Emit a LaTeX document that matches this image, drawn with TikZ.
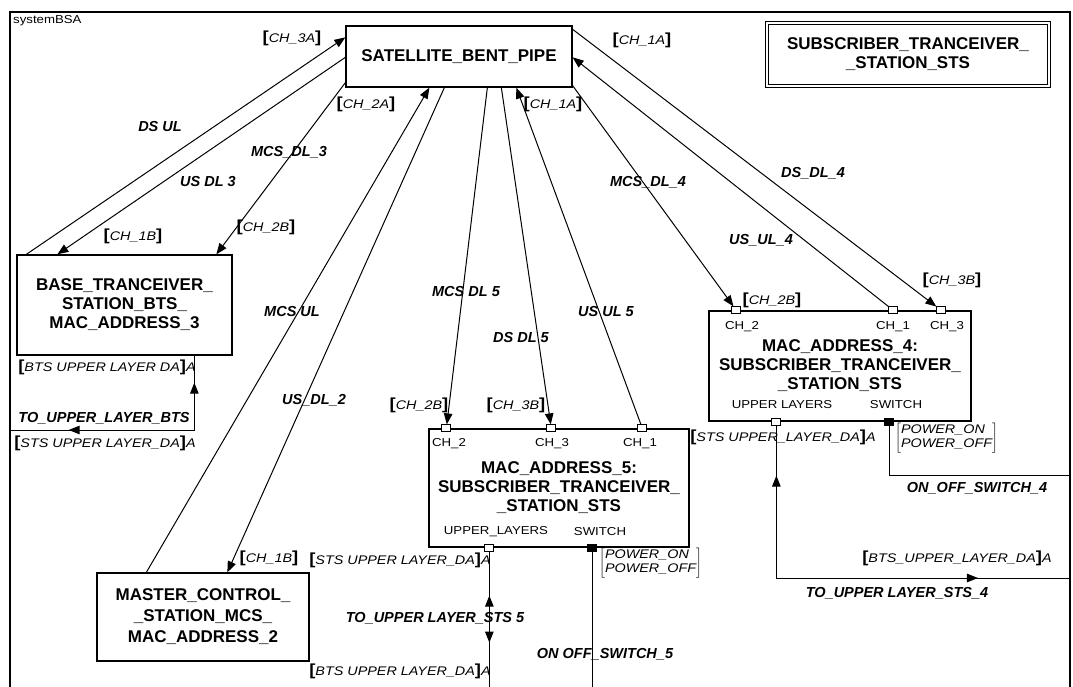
\documentclass[tikz,border=0pt]{standalone}
\usepackage{fontspec}
\setmainfont{Liberation Sans}
\newfontfamily\tagfam[FakeStretch=1.15]{Liberation Sans}
\usetikzlibrary{arrows.meta,calc,decorations.markings}
\newcommand\boxfont{\bfseries\fontsize{17}{19}\selectfont}
\newcommand\labfont{\bfseries\itshape\fontsize{14.5}{16}\selectfont}
\newcommand\tagfont{\tagfam\itshape\fontsize{12.5}{14}\selectfont}
\newcommand\portfont{\tagfam\fontsize{11.5}{13}\selectfont}
\newcommand\bkt[1]{{\upshape\bfseries\fontsize{16}{14}\selectfont#1}}
\newcommand\brk[1]{\bkt{[}#1\bkt{]}}
\newcommand\pwrtag[2]{$\left[\begin{tabular}{@{}l@{}}#1\\#2\end{tabular}\right]$}

\begin{document}
\begin{tikzpicture}[x=1pt,y=-1pt,
  blk/.style={draw,line width=1.3pt,font=\boxfont,align=center,inner sep=0pt},
  portbox/.style={draw,line width=0.9pt,fill=white,minimum width=9pt,minimum height=7pt,inner sep=0pt},
  conn/.style={line width=1pt},
  linelab/.style={font=\labfont,inner sep=0pt},
  chtag/.style={font=\tagfont,inner sep=0pt},
  chname/.style={font=\portfont,inner sep=0pt},
  >={Triangle[length=11pt,width=8.5pt]}]
 \useasboundingbox (0,0) rectangle (1073,687);
 \draw[line width=1.2pt] (10,12) rectangle (1070,700);
 \node[chname,anchor=north west] (sysname) at (13,15) {systemBSA};

 \node[blk,minimum width=226pt,minimum height=61pt] (sat) at (459,56.5) {SATELLITE\_BENT\_PIPE};
 \node[blk,double,double distance=2.5pt,line width=0.8pt,minimum width=282pt,minimum height=63pt] (legend) at (908,54.5) {SUBSCRIBER\_TRANCEIVER\_\\\_STATION\_STS};
 \node[blk,minimum width=215pt,minimum height=100pt] (bts) at (124.5,305) {BASE\_TRANCEIVER\_\\STATION\_BTS\_\\MAC\_ADDRESS\_3};
 \node[blk,minimum width=212pt,minimum height=88pt,font=\bfseries\fontsize{17}{21}\selectfont] (mcs) at (203,617) {MASTER\_CONTROL\_\\\_STATION\_MCS\_\\MAC\_ADDRESS\_2};
 \node[blk,minimum width=260pt,minimum height=118pt] (mac5) at (559,488) {MAC\_ADDRESS\_5:\\SUBSCRIBER\_TRANCEIVER\_\\\_STATION\_STS};
 \node[blk,minimum width=262pt,minimum height=110pt] (mac4) at (840,366) {MAC\_ADDRESS\_4:\\SUBSCRIBER\_TRANCEIVER\_\\\_STATION\_STS};

 \coordinate (s3a) at ($(sat.north west)+(0,12)$);
 \coordinate (sus3) at ($(sat.north west)+(0,32)$);
 \coordinate (smcs3) at ($(sat.south west)+(0,-5)$);
 \coordinate (sds4) at ($(sat.north east)+(0,4)$);
 \coordinate (sus4) at ($(sat.north east)+(0,32)$);
 \coordinate (smcs4) at ($(sat.south east)+(0,-2)$);
 \foreach \n/\dx in {s2a/84,sus2/99,smcs5/142,sds5/156,s1a/171}
  \coordinate (\n) at ($(sat.south west)+(\dx,0)$);
 \foreach \n/\dx in {bds/10,bus3/41,bmcs3/200}
  \coordinate (\n) at ($(bts.north west)+(\dx,0)$);
 \coordinate (bup) at ($(bts.south west)+(178,0)$);
 \coordinate (mul) at ($(mcs.north west)+(50,0)$);
 \coordinate (mus2) at ($(mcs.north west)+(131,0)$);

 \foreach \n/\dx in {m5ch2/18,m5ch3/123,m5ch1/214}
  \node[portbox] (\n) at ($(mac5.north west)+(\dx,0)$) {};
 \foreach \n/\dx in {m4ch2/28,m4ch1/185,m4ch3/233}
  \node[portbox] (\n) at ($(mac4.north west)+(\dx,0)$) {};
 \node[portbox] (m5up) at ($(mac5.south west)+(61,0)$) {};
 \node[portbox,fill=black] (m5sw) at ($(mac5.south west)+(164,0)$) {};
 \node[portbox] (m4up) at ($(mac4.south west)+(68,0)$) {};
 \node[portbox,fill=black] (m4sw) at ($(mac4.south west)+(181,0)$) {};

 \coordinate (eBTS) at (10,430);
 \coordinate (e5up) at ($(m5up)+(0,148)$);
 \coordinate (e5sw) at ($(m5sw)+(0,148)$);
 \coordinate (e4up) at (1070,578);
 \coordinate (e4sw) at (1070,475);

 \draw[conn,->] (bds) -- (s3a);
 \draw[conn,->] (sus3) -- (bus3);
 \draw[conn,->] (smcs3) -- (bmcs3);
 \draw[conn,->] (mul) -- (s2a);
 \draw[conn,->] (sus2) -- (mus2);
 \draw[conn,->] (smcs5) -- (m5ch2);
 \draw[conn,->] (sds5) -- (m5ch3);
 \draw[conn,->] (m5ch1) -- (s1a);
 \draw[conn,->] (smcs4) -- (m4ch2);
 \draw[conn,->] (m4ch1) -- (sus4);
 \draw[conn,->] (sds4) -- (m4ch3);

 \draw[conn,postaction={decorate},decoration={markings,
   mark=at position 27pt with {\arrowreversed{>}},
   mark=at position 200pt with {\arrow{>}}}] (bup) |- (eBTS);
 \draw[conn,postaction={decorate},decoration={markings,
   mark=at position 44pt with {\arrowreversed{>}},
   mark=at position 91pt with {\arrow{>}}}] (m5up) -- (e5up);
 \draw[conn] (m5sw) -- (e5sw);
 \draw[conn,postaction={decorate},decoration={markings,
   mark=at position 50pt with {\arrowreversed{>}},
   mark=at position 354pt with {\arrow{>}}}] (m4up) |- (e4up);
 \draw[conn] (m4sw) |- (e4sw);

 \foreach \n/\x/\y/\t in {dsul/160/127/DS UL, usdl3/208/182/US DL 3,
   mcsdl3/289/152/MCS\_DL\_3, mcsul/292/312/MCS UL, usdl2/314/400/US\_DL\_2,
   mcsdl5/466/292/MCS DL 5, dsdl5/521/338/DS DL 5, usul5/606/312/US UL 5,
   mcsdl4/648/182/MCS\_DL\_4, usul4/761/240/US\_UL\_4, dsdl4/813/173/DS\_DL\_4,
   upbts/104/418/TO\_UPPER\_LAYER\_BTS, upsts5/435/618/TO\_UPPER LAYER\_STS 5,
   sw5/605/654/ON OFF\_SWITCH\_5, sw4/977/488/ON\_OFF\_SWITCH\_4,
   upsts4/897/593/TO\_UPPER LAYER\_STS\_4}
  \node[linelab] (l-\n) at (\x,\y) {\t};

 \foreach \n/\x/\y/\t in {t3a/292/38/{\brk{CH\_3A}}, t2a/366/104/{\brk{CH\_2A}},
   t1a/553/104/{\brk{CH\_1A}}, t1ar/642/40/{\brk{CH\_1A}}, t1bb/133/236/{\brk{CH\_1B}},
   t2bb/266/227/{\brk{CH\_2B}}, t1bm/269/558/{\brk{CH\_1B}}, t2b5/419/405/{\brk{CH\_2B}},
   t3b5/516/405/{\brk{CH\_3B}}, t2b4/772/300/{\brk{CH\_2B}}, t3b4/952/280/{\brk{CH\_3B}},
   bu1/107/367/{\brk{BTS UPPER LAYER DA}A}, su1/105/443/{\brk{STS UPPER LAYER\_DA}A},
   su5/400/560/{\brk{STS UPPER LAYER\_DA}A}, bu5/400/671/{\brk{BTS UPPER LAYER\_DA}A},
   su4/783/437/{\brk{STS UPPER\_LAYER\_DA}A}, bu4/957/558/{\brk{BTS\_UPPER\_LAYER\_DA}A}}
  \node[chtag] (t-\n) at (\x,\y) {\t};
 \node[chtag,anchor=west] (t-pw5) at (599,563) {\pwrtag{POWER\_ON}{POWER\_OFF}};
 \node[chtag,anchor=west] (t-pw4) at (895,438) {\pwrtag{POWER\_ON}{POWER\_OFF}};

 \foreach \n/\x/\y/\t in {c2m5/449/444/CH\_2, c3m5/552/444/CH\_3, c1m5/640/444/CH\_1,
   ul5/496/532/UPPER\_LAYERS, sw5n/600/532/SWITCH,
   c2m4/742/327/CH\_2, c1m4/893/327/CH\_1, c3m4/947/327/CH\_3,
   ul4/782/405/UPPER LAYERS, sw4n/896/405/SWITCH}
  \node[chname] (n-\n) at (\x,\y) {\t};
\end{tikzpicture}
\end{document}
